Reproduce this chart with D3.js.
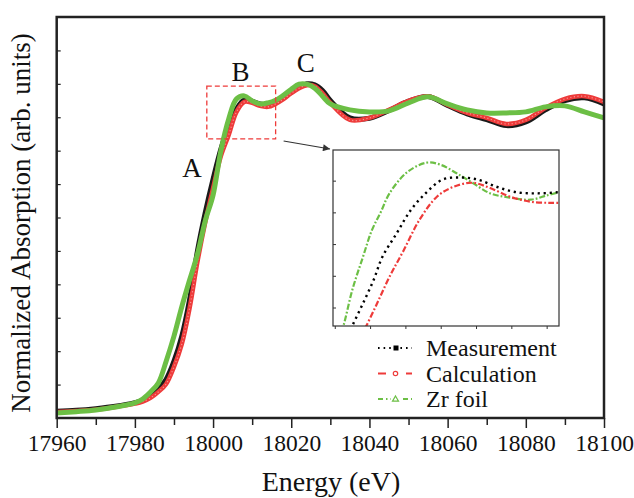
<!DOCTYPE html>
<html>
<head>
<meta charset="utf-8">
<script src="https://cdnjs.cloudflare.com/ajax/libs/d3/7.8.5/d3.min.js"></script>
<style>
  body { margin: 0; background: #fff; }
  text { font-family: 'Liberation Serif', 'Times New Roman', serif; fill: #111; }
</style>
</head>
<body>
<div id="chart"></div>
<script>
// main panel, one energy grid for all three spectra
var energy = [17960, 17965, 17970, 17975, 17980, 17982, 17984, 17986, 17988, 17990,
  17992, 17994, 17996, 17998, 18000, 18002, 18004, 18006, 18008, 18010,
  18012, 18014, 18016, 18018, 18020, 18022, 18024, 18026, 18028, 18030,
  18035, 18040, 18045, 18050, 18055, 18060, 18065, 18070, 18075, 18080,
  18085, 18090, 18095, 18100];
var measured = [0.020, 0.023, 0.028, 0.035, 0.046, 0.053, 0.066, 0.087, 0.116, 0.170,
  0.245, 0.355, 0.500, 0.615, 0.715, 0.805, 0.875, 0.925, 0.952, 0.948,
  0.940, 0.938, 0.945, 0.958, 0.975, 0.990, 1.000, 0.997, 0.980, 0.950,
  0.898, 0.897, 0.920, 0.948, 0.962, 0.935, 0.910, 0.893, 0.875, 0.886,
  0.922, 0.950, 0.958, 0.940];
var calculated = [0.018, 0.021, 0.025, 0.033, 0.043, 0.049, 0.060, 0.078, 0.102, 0.153,
  0.221, 0.329, 0.467, 0.586, 0.688, 0.784, 0.847, 0.916, 0.946, 0.943,
  0.934, 0.931, 0.940, 0.954, 0.972, 0.987, 0.996, 0.993, 0.972, 0.943,
  0.892, 0.898, 0.922, 0.949, 0.963, 0.937, 0.913, 0.898, 0.880, 0.892,
  0.928, 0.955, 0.963, 0.946];
var zrFoil = [0.015, 0.019, 0.024, 0.033, 0.045, 0.057, 0.078, 0.105, 0.170, 0.245,
  0.333, 0.413, 0.490, 0.590, 0.667, 0.800, 0.895, 0.955, 0.964, 0.949,
  0.940, 0.943, 0.951, 0.966, 0.984, 0.999, 0.999, 0.987, 0.963, 0.940,
  0.922, 0.916, 0.919, 0.943, 0.961, 0.940, 0.922, 0.913, 0.913, 0.916,
  0.931, 0.934, 0.916, 0.898];

// inset (zoom on peak B)
var insetMeasE = [18002.6, 18003.0, 18003.6, 18004.2, 18004.7, 18005.5, 18006.3, 18007.2,
  18008.1, 18009.1, 18010.1, 18011.2, 18012.3, 18013.5, 18014.6, 18015.0];
var insetMeasV = [0.799, 0.813, 0.834, 0.856, 0.878, 0.900, 0.922, 0.939,
  0.951, 0.953, 0.951, 0.944, 0.939, 0.938, 0.939, 0.940];
var insetCalcE = [18003.4, 18003.8, 18004.4, 18005.1, 18005.9, 18006.8, 18007.8, 18008.7,
  18009.8, 18010.8, 18011.9, 18013.1, 18014.2, 18015.0];
var insetCalcV = [0.800, 0.813, 0.834, 0.859, 0.884, 0.913, 0.935, 0.944,
  0.948, 0.943, 0.935, 0.930, 0.929, 0.929];
var insetFoilE = [18002.0, 18002.5, 18003.0, 18003.6, 18004.1, 18004.6, 18005.1, 18006.1,
  18007.2, 18008.0, 18008.9, 18009.8, 18010.8, 18011.9, 18013.1, 18014.0, 18014.7];
var insetFoilV = [0.785, 0.813, 0.847, 0.878, 0.903, 0.920, 0.938, 0.958,
  0.967, 0.965, 0.957, 0.948, 0.938, 0.934, 0.932, 0.936, 0.939];

var xMajorTicks = [17960, 17980, 18000, 18020, 18040, 18060, 18080, 18100];
var xMinorTicks = [17970, 17990, 18010, 18030, 18050, 18070, 18090];
var yTicks = [0.1, 0.2, 0.3, 0.4, 0.5, 0.6, 0.7, 0.8, 0.9, 1.0, 1.1];
var insetXTicks = [18002, 18004, 18006, 18008, 18010, 18012, 18014];
var insetYTicks = [0.83, 0.86, 0.89, 0.92, 0.95];
var legendLabels = ['Measurement', 'Calculation', 'Zr foil'];

var width = 634;
var height = 498;
var colors = { meas: '#1a1a1a', calc: '#ee3b3a', foil: '#6cbf45' };

var svg = d3.select('#chart').append('svg')
  .attr('width', width)
  .attr('height', height);

var x = d3.scaleLinear().domain([17960, 18100]).range([56.7, 604]);
var y = d3.scaleLinear().domain([0, 1.2]).range([418, 17]);

svg.append('clipPath').attr('id', 'mainClip')
  .append('rect').attr('x', 56.7).attr('y', 17).attr('width', 604 - 56.7).attr('height', 418 - 17);

var line = d3.line()
  .x(function(d) { return x(d[0]); })
  .y(function(d) { return y(d[1]); })
  .curve(d3.curveCatmullRom.alpha(0.5));

function pairs(xs, ys) {
  return xs.map(function(e, i) { return [e, ys[i]]; });
}

var curves = svg.append('g').attr('clip-path', 'url(#mainClip)');

curves.append('path')
  .attr('d', line(pairs(energy, measured)))
  .attr('fill', 'none').attr('stroke', colors.meas).attr('stroke-width', 5);

curves.append('path')
  .attr('d', line(pairs(energy, calculated)))
  .attr('fill', 'none').attr('stroke', colors.calc).attr('stroke-width', 4.5);
// light speckle to hint the open circle markers
curves.append('path')
  .attr('d', line(pairs(energy, calculated)))
  .attr('fill', 'none').attr('stroke', '#fff').attr('stroke-opacity', 0.45)
  .attr('stroke-width', 1.2).attr('stroke-dasharray', '1.2,2.4');

curves.append('path')
  .attr('d', line(pairs(energy, zrFoil)))
  .attr('fill', 'none').attr('stroke', colors.foil).attr('stroke-width', 5);

// axes
var xAxis = svg.append('g').attr('transform', 'translate(0,418)');
xAxis.call(d3.axisBottom(x).tickValues(xMajorTicks).tickSize(10).tickPadding(6).tickFormat(d3.format('d')));
xAxis.select('.domain').remove();
xAxis.selectAll('line').attr('stroke', '#222').attr('stroke-width', 1.5);
xAxis.selectAll('text').attr('font-size', 23.5).attr('fill', '#111')
  .style('font-family', "'Liberation Serif', serif");

var xMinor = svg.append('g').attr('transform', 'translate(0,418)');
xMinor.call(d3.axisBottom(x).tickValues(xMinorTicks).tickSize(7).tickFormat(''));
xMinor.select('.domain').remove();
xMinor.selectAll('line').attr('stroke', '#222').attr('stroke-width', 1.5);

var yAxis = svg.append('g').attr('transform', 'translate(56.7,0)');
yAxis.call(d3.axisLeft(y).tickValues(yTicks).tickSize(-4).tickFormat(''));
yAxis.select('.domain').remove();
yAxis.selectAll('line').attr('stroke', '#222').attr('stroke-width', 1.2);

svg.append('rect')
  .attr('x', 56.7).attr('y', 17)
  .attr('width', 604 - 56.7).attr('height', 418 - 17)
  .attr('fill', 'none').attr('stroke', '#222').attr('stroke-width', 2.5);

svg.append('text')
  .attr('x', 331).attr('y', 491)
  .attr('text-anchor', 'middle').attr('font-size', 28)
  .text('Energy (eV)');

svg.append('text')
  .attr('transform', 'translate(30,223) rotate(-90)')
  .attr('text-anchor', 'middle').attr('font-size', 27)
  .text('Normalized Absorption (arb. units)');

// peak labels
svg.append('text').attr('x', x(17994.6)).attr('y', y(0.721))
  .attr('text-anchor', 'middle').attr('font-size', 27).text('A');
svg.append('text').attr('x', x(18007)).attr('y', y(1.008))
  .attr('text-anchor', 'middle').attr('font-size', 27).text('B');
svg.append('text').attr('x', x(18023.7)).attr('y', y(1.035))
  .attr('text-anchor', 'middle').attr('font-size', 27).text('C');

// zoom box around B
var boxE = [17998.4, 18016];
var boxV = [0.835, 0.993];
svg.append('rect')
  .attr('x', x(boxE[0])).attr('y', y(boxV[1]))
  .attr('width', x(boxE[1]) - x(boxE[0])).attr('height', y(boxV[0]) - y(boxV[1]))
  .attr('fill', 'none').attr('stroke', colors.calc).attr('stroke-width', 1.3)
  .attr('stroke-dasharray', '5,3');

// inset
var inset = { left: 333, top: 150, right: 559, bottom: 326 };
var xi = d3.scaleLinear().domain([18001.9, 18014.7]).range([inset.left, inset.right]);
var yi = d3.scaleLinear().domain([0.8125, 0.979]).range([inset.bottom, inset.top]);

svg.append('defs').append('marker')
  .attr('id', 'arrow').attr('viewBox', '0 0 10 10')
  .attr('refX', 10).attr('refY', 5)
  .attr('markerWidth', 9).attr('markerHeight', 7)
  .attr('markerUnits', 'userSpaceOnUse')
  .attr('orient', 'auto')
  .append('path').attr('d', 'M0,0L10,5L0,10z').attr('fill', '#333');

svg.append('line')
  .attr('x1', x(boxE[1]) + 8).attr('y1', y(boxV[0]) + 2)
  .attr('x2', inset.left - 3).attr('y2', inset.top - 1)
  .attr('stroke', '#333').attr('stroke-width', 1.2)
  .attr('marker-end', 'url(#arrow)');

svg.append('rect')
  .attr('x', inset.left).attr('y', inset.top)
  .attr('width', inset.right - inset.left).attr('height', inset.bottom - inset.top)
  .attr('fill', '#fff');

svg.append('clipPath').attr('id', 'insetClip')
  .append('rect').attr('x', inset.left).attr('y', inset.top)
  .attr('width', inset.right - inset.left).attr('height', inset.bottom - inset.top);

var lineI = d3.line()
  .x(function(d) { return xi(d[0]); })
  .y(function(d) { return yi(d[1]); })
  .curve(d3.curveCatmullRom.alpha(0.5));

var insetCurves = svg.append('g').attr('clip-path', 'url(#insetClip)');
insetCurves.append('path')
  .attr('d', lineI(pairs(insetFoilE, insetFoilV)))
  .attr('fill', 'none').attr('stroke', colors.foil).attr('stroke-width', 2.2)
  .attr('stroke-dasharray', '6,2,1.8,2');
insetCurves.append('path')
  .attr('d', lineI(pairs(insetCalcE, insetCalcV)))
  .attr('fill', 'none').attr('stroke', colors.calc).attr('stroke-width', 2.2)
  .attr('stroke-dasharray', '6,2.2,1.8,2.2');
insetCurves.append('path')
  .attr('d', lineI(pairs(insetMeasE, insetMeasV)))
  .attr('fill', 'none').attr('stroke', '#000').attr('stroke-width', 2.4)
  .attr('stroke-dasharray', '2.2,3.8');

var ixAxis = svg.append('g').attr('transform', 'translate(0,' + inset.bottom + ')');
ixAxis.call(d3.axisBottom(xi).tickValues(insetXTicks).tickSize(3).tickFormat(''));
ixAxis.select('.domain').remove();
ixAxis.selectAll('line').attr('stroke', '#333');

var iyAxis = svg.append('g').attr('transform', 'translate(' + inset.left + ',0)');
iyAxis.call(d3.axisLeft(yi).tickValues(insetYTicks).tickSize(-3).tickFormat(''));
iyAxis.select('.domain').remove();
iyAxis.selectAll('line').attr('stroke', '#333');

svg.append('rect')
  .attr('x', inset.left).attr('y', inset.top)
  .attr('width', inset.right - inset.left).attr('height', inset.bottom - inset.top)
  .attr('fill', 'none').attr('stroke', '#333').attr('stroke-width', 1.2);

// legend
var legendStyles = [
  { color: '#000', dash: '1.6,4', marker: 'square' },
  { color: colors.calc, dash: '8,6', marker: 'circle' },
  { color: colors.foil, dash: '5,3,1.5,3', marker: 'triangle' }
];
var legend = svg.append('g').attr('transform', 'translate(378,348)');
legendLabels.forEach(function(label, i) {
  var row = legend.append('g').attr('transform', 'translate(0,' + (i * 25.5) + ')');
  var st = legendStyles[i];
  row.append('line')
    .attr('x1', 0).attr('x2', 34).attr('y1', 0).attr('y2', 0)
    .attr('stroke', st.color).attr('stroke-width', 1.8)
    .attr('stroke-dasharray', st.dash);
  row.append('rect').attr('x', 13).attr('y', -5).attr('width', 9).attr('height', 10).attr('fill', '#fff');
  if (st.marker === 'square') {
    row.append('rect').attr('x', 15.5).attr('y', -2.5).attr('width', 5).attr('height', 5).attr('fill', '#000');
  } else if (st.marker === 'circle') {
    row.append('circle').attr('cx', 17.5).attr('cy', 0).attr('r', 2.2)
      .attr('fill', '#fff').attr('stroke', st.color).attr('stroke-width', 1.2);
  } else {
    row.append('path').attr('d', 'M17.5,-3L20.5,2.2L14.5,2.2Z')
      .attr('fill', '#fff').attr('stroke', st.color).attr('stroke-width', 1.2);
  }
  row.append('text').attr('x', 48).attr('y', 8)
    .attr('font-size', 24).text(label);
});
</script>
</body>
</html>
